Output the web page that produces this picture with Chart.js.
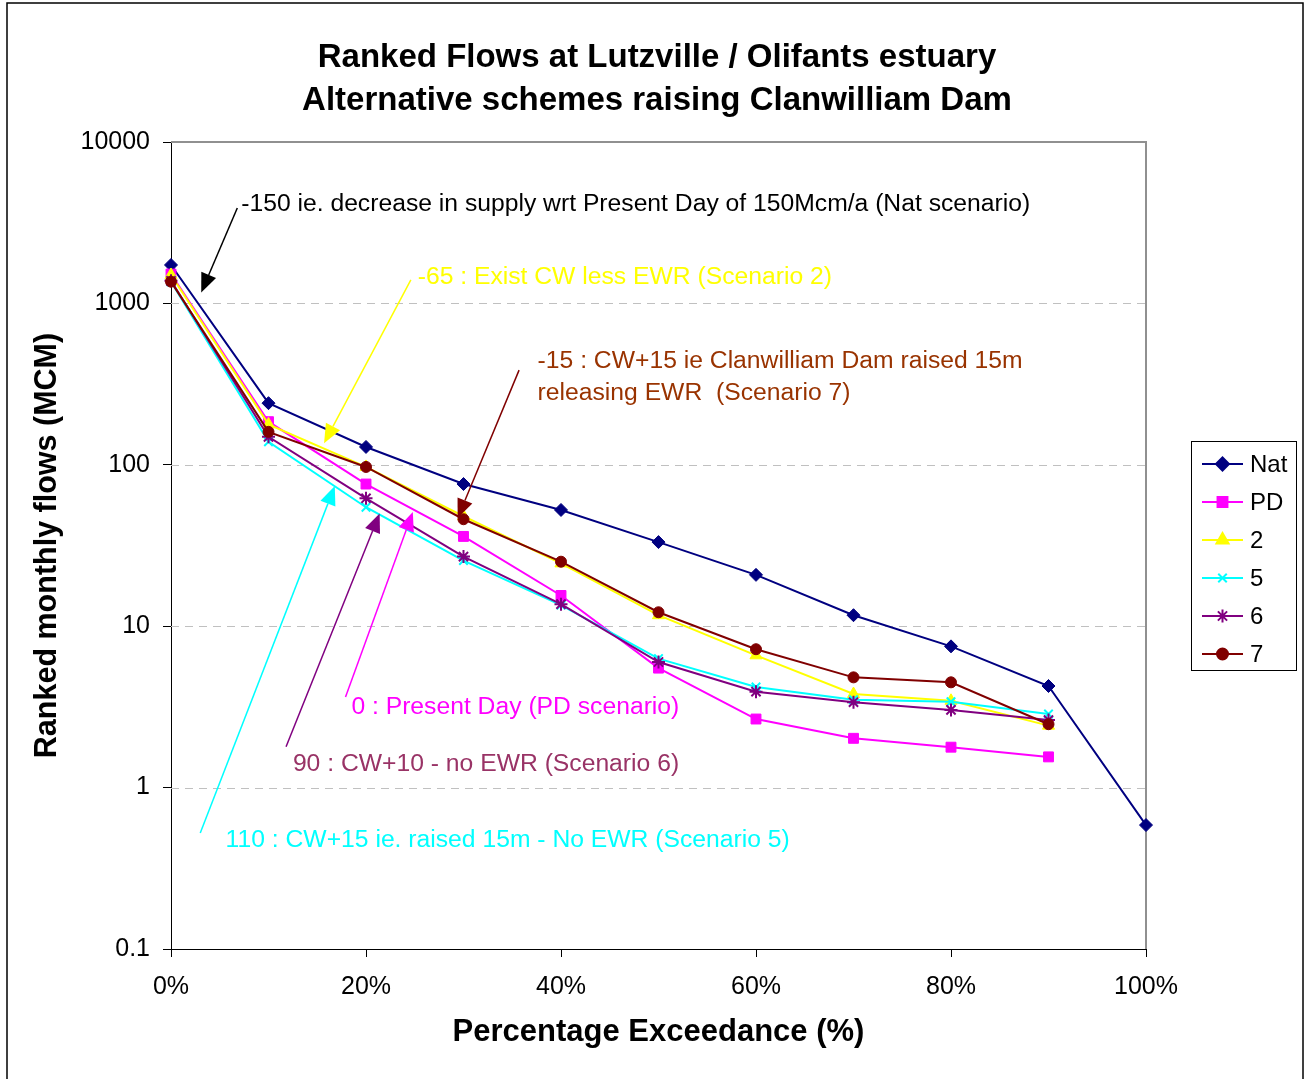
<!DOCTYPE html>
<html>
<head>
<meta charset="utf-8">
<title>Ranked Flows at Lutzville / Olifants estuary</title>
<script src="https://cdn.jsdelivr.net/npm/chart.js@4.4.1/dist/chart.umd.min.js"></script>
<style>
  html, body { margin: 0; padding: 0; background: #fff; }
  #wrap { width: 1307px; height: 1079px; }
</style>
</head>
<body>
<div id="wrap"><canvas id="flowChart" width="1307" height="1079"></canvas></div>
<script>
// Percentage exceedance (x) and ranked monthly flows in MCM (y, log scale)
const exceedance = [0, 10, 20, 30, 40, 50, 60, 70, 80, 90, 100];
const natFlows = [1730, 241, 129, 76, 52.5, 33.2, 20.8, 11.7, 7.5, 4.26, 0.586];
const pdFlows  = [1520, 185, 76, 36, 15.5, 5.5, 2.66, 2.02, 1.78, 1.55];
const sc2Flows = [1500, 178, 97, 48, 24.5, 11.7, 6.6, 3.8, 3.45, 2.42];
const sc5Flows = [1360, 139, 54.6, 25.5, 13.5, 6.3, 4.2, 3.5, 3.4, 2.86];
const sc6Flows = [1380, 149, 62, 27, 13.7, 6.0, 3.93, 3.38, 3.03, 2.62];
const sc7Flows = [1364, 160, 97, 46, 25.1, 12.2, 7.2, 4.82, 4.49, 2.47];

const seriesNames = ['Nat', 'PD', '2', '5', '6', '7'];
const seriesValues = [natFlows, pdFlows, sc2Flows, sc5Flows, sc6Flows, sc7Flows];
const yTickValues = [0.1, 1, 10, 100, 1000, 10000];
const xTickValues = [0, 20, 40, 60, 80, 100];
const gridValues = [1, 10, 100, 1000];
const titleLines = ['Ranked Flows at Lutzville / Olifants estuary', 'Alternative schemes raising Clanwilliam Dam'];

// look of each series (Excel default palette)
const seriesStyles = [
  { color: '#000080', pointStyle: 'rectRot', radius: 6.5 },
  { color: '#FF00FF', pointStyle: 'rect', radius: 7 },
  { color: '#FFFF00', pointStyle: 'triangle', radius: 7 },
  { color: '#00FFFF', pointStyle: 'crossRot', radius: 6 },
  { color: '#800080', pointStyle: 'star', radius: 6.5 },
  { color: '#800000', pointStyle: 'circle', radius: 5.5 }
];

// callouts: text anchor, arrow tail and tip, all in data units (% , MCM)
const notes = [
  { lines: ['-150 ie. decrease in supply wrt Present Day of 150Mcm/a (Nat scenario)'],
    color: '#000000', arrow: '#000000', at: [7.2, 4130], from: [6.8, 3900], to: [3.1, 1170] },
  { lines: ['-65 : Exist CW less EWR (Scenario 2)'],
    color: '#FFFF00', arrow: '#FFFF00', at: [25.3, 1458], from: [24.6, 1397], to: [15.7, 136] },
  { lines: ['-15 : CW+15 ie Clanwilliam Dam raised 15m', 'releasing EWR  (Scenario 7)'],
    color: '#993300', arrow: '#800000', at: [37.6, 440], from: [35.7, 386], to: [29.4, 46.8] },
  { lines: ['0 : Present Day (PD scenario)'],
    color: '#FF00FF', arrow: '#FF00FF', at: [18.5, 3.16], from: [17.9, 3.64], to: [24.8, 51] },
  { lines: ['90 : CW+10 - no EWR (Scenario 6)'],
    color: '#993366', arrow: '#800080', at: [12.5, 1.40], from: [11.8, 1.79], to: [21.4, 50] },
  { lines: ['110 : CW+15 ie. raised 15m - No EWR (Scenario 5)'],
    color: '#00FFFF', arrow: '#00FFFF', at: [5.6, 0.473], from: [3.0, 0.524], to: [16.8, 74] }
];

const FONT = '"Liberation Sans", Arial, sans-serif';
Chart.defaults.font.family = FONT;
Chart.defaults.color = '#000';

function toPx(chart, pt) {
  return [chart.scales.x.getPixelForValue(pt[0]), chart.scales.y.getPixelForValue(pt[1])];
}

function drawArrow(ctx, a, b, color) {
  const ang = Math.atan2(b[1] - a[1], b[0] - a[0]);
  const len = 19, half = 8;
  const bx = b[0] - Math.cos(ang) * len, by = b[1] - Math.sin(ang) * len;
  ctx.strokeStyle = color;
  ctx.lineWidth = 1.5;
  ctx.beginPath();
  ctx.moveTo(a[0], a[1]);
  ctx.lineTo(bx, by);
  ctx.stroke();
  ctx.fillStyle = color;
  ctx.beginPath();
  ctx.moveTo(b[0], b[1]);
  ctx.lineTo(bx - Math.sin(ang) * half, by + Math.cos(ang) * half);
  ctx.lineTo(bx + Math.sin(ang) * half, by - Math.cos(ang) * half);
  ctx.closePath();
  ctx.fill();
}

// dashed gridlines + grey top/right edge of the plot area
const plotFrame = {
  id: 'plotFrame',
  beforeDatasetsDraw(chart) {
    const { ctx, chartArea: a, scales } = chart;
    ctx.save();
    ctx.strokeStyle = '#c0c0c0';
    ctx.lineWidth = 1;
    ctx.setLineDash([8, 6]);
    gridValues.forEach(v => {
      const y = Math.round(scales.y.getPixelForValue(v)) + 0.5;
      ctx.beginPath();
      ctx.moveTo(a.left, y);
      ctx.lineTo(a.right, y);
      ctx.stroke();
    });
    ctx.setLineDash([]);
    ctx.strokeStyle = '#909090';
    ctx.lineWidth = 2;
    ctx.beginPath();
    ctx.moveTo(a.left, a.top);
    ctx.lineTo(a.right, a.top);
    ctx.lineTo(a.right, a.bottom);
    ctx.stroke();
    ctx.restore();
  }
};

const callouts = {
  id: 'callouts',
  afterDatasetsDraw(chart) {
    const ctx = chart.ctx;
    ctx.save();
    notes.forEach(n => {
      drawArrow(ctx, toPx(chart, n.from), toPx(chart, n.to), n.arrow);
      const p = toPx(chart, n.at);
      ctx.fillStyle = n.color;
      ctx.font = '24.7px ' + FONT;
      ctx.textAlign = 'left';
      ctx.textBaseline = 'middle';
      n.lines.forEach((t, i) => ctx.fillText(t, p[0], p[1] + i * 32));
    });
    ctx.restore();
  }
};

// two-line title centred over the whole figure (legend included)
const figTitle = {
  id: 'figTitle',
  afterDraw(chart) {
    const ctx = chart.ctx;
    ctx.save();
    ctx.fillStyle = '#000';
    ctx.font = 'bold 33px ' + FONT;
    ctx.textAlign = 'center';
    ctx.textBaseline = 'middle';
    titleLines.forEach((t, i) => ctx.fillText(t, 657, 58 + i * 43));
    ctx.restore();
  }
};

const boxLegend = {
  id: 'boxLegend',
  afterDraw(chart) {
    const ctx = chart.ctx;
    const left = 1191, top = 441, w = 105, h = 229;
    ctx.save();
    ctx.fillStyle = '#fff';
    ctx.fillRect(left, top, w, h);
    ctx.strokeStyle = '#000';
    ctx.lineWidth = 1;
    ctx.strokeRect(left + 0.5, top + 0.5, w, h);
    chart.data.datasets.forEach((ds, i) => {
      const y = top + 23 + i * 38;
      ctx.strokeStyle = ds.borderColor;
      ctx.lineWidth = 2;
      ctx.beginPath();
      ctx.moveTo(1202, y);
      ctx.lineTo(1243, y);
      ctx.stroke();
      ctx.fillStyle = ds.pointBackgroundColor;
      Chart.helpers.drawPoint(ctx, {
        pointStyle: ds.pointStyle, radius: ds.pointRadius, borderWidth: ds.pointBorderWidth, rotation: 0
      }, 1222.5, y);
      ctx.fillStyle = '#000';
      ctx.font = '24px ' + FONT;
      ctx.textAlign = 'left';
      ctx.textBaseline = 'middle';
      ctx.fillText(ds.label, 1250, y + 1);
    });
    ctx.restore();
  }
};

const outerBorder = {
  id: 'outerBorder',
  afterDraw(chart) {
    const ctx = chart.ctx;
    ctx.save();
    ctx.strokeStyle = '#000';
    ctx.lineWidth = 1.5;
    ctx.strokeRect(7, 3, 1296, 1100);
    ctx.restore();
  }
};

const datasets = seriesNames.map((name, i) => {
  const st = seriesStyles[i];
  return {
    label: name,
    data: seriesValues[i].map((v, j) => ({ x: exceedance[j], y: v })),
    borderColor: st.color,
    backgroundColor: st.color,
    pointBackgroundColor: st.color,
    pointBorderColor: st.color,
    pointStyle: st.pointStyle,
    pointRadius: st.radius,
    pointBorderWidth: st.pointStyle === 'crossRot' || st.pointStyle === 'star' ? 2 : 1,
    borderWidth: 2,
    tension: 0,
    clip: false,
    order: seriesNames.length - i
  };
});

new Chart(document.getElementById('flowChart'), {
  type: 'line',
  data: { datasets },
  options: {
    responsive: false,
    animation: false,
    events: [],
    layout: { padding: { top: 142, right: 161, bottom: 0, left: 0 } },
    plugins: {
      legend: { display: false },
      tooltip: { enabled: false },
      title: { display: false }
    },
    scales: {
      x: {
        type: 'linear',
        min: 0,
        max: 100,
        afterBuildTicks: s => { s.ticks = xTickValues.map(v => ({ value: v })); },
        afterFit: s => { s.height = 130; },
        ticks: { callback: v => v + '%', font: { size: 25 }, color: '#000', padding: 15, maxRotation: 0 },
        grid: { drawOnChartArea: false, tickLength: 8, tickColor: '#000' },
        border: { color: '#000', width: 1 },
        title: {
          display: true, text: 'Percentage Exceedance (%)', color: '#000',
          font: { size: 31, weight: 'bold' }, padding: { top: 0, bottom: 28 }
        }
      },
      y: {
        type: 'logarithmic',
        min: 0.1,
        max: 10000,
        afterBuildTicks: s => { s.ticks = yTickValues.map(v => ({ value: v })); },
        afterFit: s => { s.width = 171; },
        ticks: { callback: v => String(v), font: { size: 25 }, color: '#000', padding: 13, autoSkip: false },
        grid: { drawOnChartArea: false, tickLength: 8, tickColor: '#000' },
        border: { color: '#000', width: 1 },
        title: {
          display: true, text: 'Ranked monthly flows (MCM)', color: '#000',
          font: { size: 30.5, weight: 'bold' }, padding: { top: 29, bottom: 0 }
        }
      }
    }
  },
  plugins: [plotFrame, callouts, figTitle, boxLegend, outerBorder]
});
</script>
</body>
</html>
